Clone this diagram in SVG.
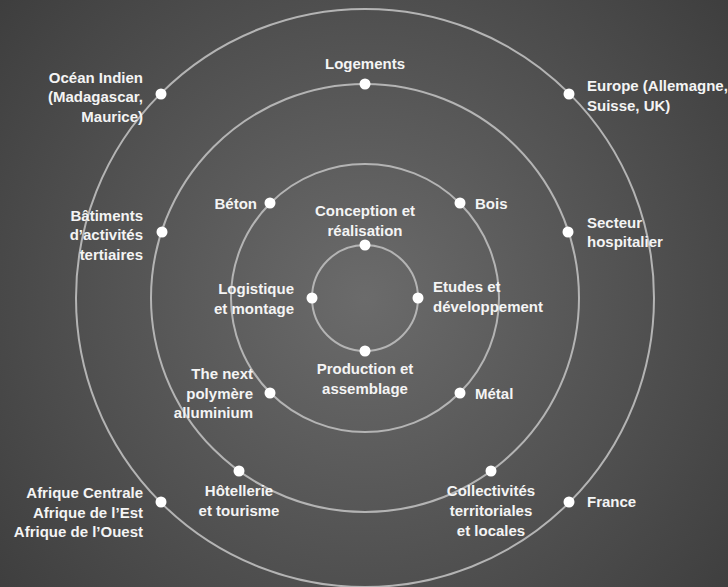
<svg xmlns="http://www.w3.org/2000/svg" width="728" height="587" viewBox="0 0 728 587">
<defs>
<radialGradient id="bg" gradientUnits="userSpaceOnUse" cx="365" cy="298" r="471">
<stop offset="0" stop-color="#6b6b6b"/>
<stop offset="1" stop-color="#3e3e3e"/>
</radialGradient>
<style>
.ring{fill:none;stroke:#b4b4b4;stroke-width:2}
.dot{fill:#ffffff}
text{font-family:"Liberation Sans",Arial,sans-serif;font-weight:700;font-size:15px;fill:#f4f4f4}
.r{text-anchor:end}
.c{text-anchor:middle}
</style>
</defs>
<rect width="728" height="587" fill="url(#bg)"/>
<g id="connectors">
<circle class="ring" cx="365" cy="298" r="53"/>
<circle class="ring" cx="365" cy="298" r="134"/>
<circle class="ring" cx="365" cy="298" r="214"/>
<circle class="ring" cx="365" cy="298" r="289"/>
</g>
<g id="n-logements"><circle class="dot" cx="365" cy="84" r="5.5"/><text class="c" x="365" y="69">Logements</text></g>
<g id="n-ocean"><circle class="dot" cx="161" cy="94" r="5.5"/><text class="r" x="143" y="82.5">Océan Indien</text><text class="r" x="143" y="102">(Madagascar,</text><text class="r" x="143" y="121.5">Maurice)</text></g>
<g id="n-europe"><circle class="dot" cx="569" cy="94" r="5.5"/><text x="587" y="91">Europe (Allemagne,</text><text x="587" y="111">Suisse, UK)</text></g>
<g id="n-batiments"><circle class="dot" cx="162" cy="232" r="5.5"/><text class="r" x="143" y="220.5">Bâtiments</text><text class="r" x="143" y="240">d’activités</text><text class="r" x="143" y="259.5">tertiaires</text></g>
<g id="n-secteur"><circle class="dot" cx="568" cy="232" r="5.5"/><text x="587" y="228">Secteur</text><text x="587" y="247">hospitalier</text></g>
<g id="n-beton"><circle class="dot" cx="270" cy="203" r="5.5"/><text class="r" x="257" y="208.5">Béton</text></g>
<g id="n-bois"><circle class="dot" cx="460" cy="203" r="5.5"/><text x="475" y="208.5">Bois</text></g>
<g id="n-conception"><circle class="dot" cx="365" cy="245" r="5.5"/><text class="c" x="365" y="216">Conception et</text><text class="c" x="365" y="235.5">réalisation</text></g>
<g id="n-logistique"><circle class="dot" cx="312" cy="298" r="5.5"/><text class="r" x="294" y="294">Logistique</text><text class="r" x="294" y="314">et montage</text></g>
<g id="n-etudes"><circle class="dot" cx="418" cy="298" r="5.5"/><text x="433" y="292">Etudes et</text><text x="433" y="311.5">développement</text></g>
<g id="n-production"><circle class="dot" cx="365" cy="351" r="5.5"/><text class="c" x="365" y="374">Production et</text><text class="c" x="365" y="394">assemblage</text></g>
<g id="n-nextpoly"><circle class="dot" cx="270" cy="393" r="5.5"/><text class="r" x="253" y="379">The next</text><text class="r" x="253" y="399">polymère</text><text class="r" x="253" y="418">alluminium</text></g>
<g id="n-metal"><circle class="dot" cx="460" cy="393" r="5.5"/><text x="475" y="399">Métal</text></g>
<g id="n-hotellerie"><circle class="dot" cx="239" cy="471" r="5.5"/><text class="c" x="239" y="496">Hôtellerie</text><text class="c" x="239" y="516">et tourisme</text></g>
<g id="n-collectivites"><circle class="dot" cx="491" cy="471" r="5.5"/><text class="c" x="491" y="496">Collectivités</text><text class="c" x="491" y="516">territoriales</text><text class="c" x="491" y="535.5">et locales</text></g>
<g id="n-afrique"><circle class="dot" cx="161" cy="502" r="5.5"/><text class="r" x="143" y="498">Afrique Centrale</text><text class="r" x="143" y="517.5">Afrique de l’Est</text><text class="r" x="143" y="537">Afrique de l’Ouest</text></g>
<g id="n-france"><circle class="dot" cx="569" cy="502" r="5.5"/><text x="587" y="507">France</text></g>
</svg>
